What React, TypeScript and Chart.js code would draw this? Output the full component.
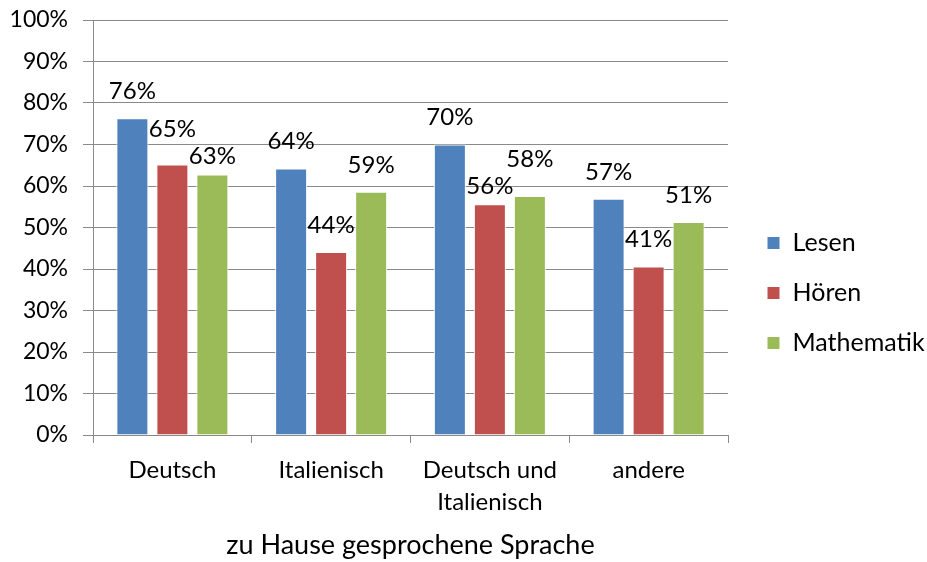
import { useEffect, useRef } from "react";
import { Chart, registerables } from "chart.js";

Chart.register(...registerables);

const categories: (string | string[])[] = ["Deutsch", "Italienisch", ["Deutsch und", "Italienisch"], "andere"];
const lesen = [76.3, 64.2, 70.0, 56.9];
const hoeren = [65.2, 44.1, 55.6, 40.6];
const mathematik = [62.8, 58.6, 57.6, 51.3];
const seriesNames = ["Lesen", "Hören", "Mathematik"];
const axisTitle = "zu Hause gesprochene Sprache";

const FONT = "Lato";
const TXT = "#000000";
const GRID = "#8a8a8a";

const LABEL_GAP = 27;
const LABEL_SEP = 27;

const valueLabels = {
  id: "valueLabels",
  afterDatasetsDraw(chart: any) {
    const ctx = chart.ctx;
    ctx.save();
    ctx.font = `24px ${FONT}`;
    ctx.fillStyle = TXT;
    ctx.textAlign = "center";
    ctx.textBaseline = "middle";
    const n = chart.data.labels.length;
    for (let i = 0; i < n; i++) {
      const items: { text: string; x: number; y: number; w: number }[] = [];
      chart.data.datasets.forEach((ds: any, di: number) => {
        const el = chart.getDatasetMeta(di).data[i];
        const text = `${Math.round(ds.data[i] as number)}%`;
        items.push({ text, x: el.x, y: el.y - LABEL_GAP, w: ctx.measureText(text).width });
      });
      // push apart neighbouring labels that would collide
      for (let k = 0; k < items.length - 1; k++) {
        const a = items[k];
        const b = items[k + 1];
        const overlapX = (a.w + b.w) / 2 > Math.abs(b.x - a.x);
        const dy = Math.abs(b.y - a.y);
        if (overlapX && dy < LABEL_SEP) {
          const push = (LABEL_SEP - dy) / 2;
          if (a.y <= b.y) {
            a.y -= push;
            b.y += push;
          } else {
            a.y += push;
            b.y -= push;
          }
        }
      }
      items.forEach((it) => ctx.fillText(it.text, it.x, it.y));
    }
    ctx.restore();
  },
};

const legendShift = {
  id: "legendShift",
  afterLayout(chart: any) {
    const l = chart.legend;
    if (l) {
      l.left += 14;
      l.right += 14;
      l.top += 2;
      l.bottom += 2;
    }
  },
};

export default function App() {
  const ref = useRef<HTMLCanvasElement>(null);
  useEffect(() => {
    if (!ref.current) return;
    const chart = new Chart(ref.current, {
      type: "bar",
      data: {
        labels: categories as any,
        datasets: [
          { label: seriesNames[0], data: lesen, backgroundColor: "#4F81BD", borderColor: "#ffffff", borderWidth: 1 },
          { label: seriesNames[1], data: hoeren, backgroundColor: "#C0504D", borderColor: "#ffffff", borderWidth: 1 },
          { label: seriesNames[2], data: mathematik, backgroundColor: "#9BBB59", borderColor: "#ffffff", borderWidth: 1 },
        ],
      },
      options: {
        responsive: false,
        animation: false,
        datasets: { bar: { categoryPercentage: 0.756, barPercentage: 0.8 } },
        layout: { padding: { top: 20, left: 0, right: 0, bottom: 0 } },
        plugins: {
          legend: {
            position: "right",
            align: "center",
            labels: {
              font: { family: FONT, size: 25 },
              color: TXT,
              boxWidth: 13,
              boxHeight: 13,
              padding: 25,
            },
          },
          tooltip: { enabled: false },
        },
        scales: {
          x: {
            grid: { display: true, drawOnChartArea: false, drawTicks: true, tickLength: 8, color: GRID, offset: true },
            border: { display: true, color: GRID },
            ticks: { font: { family: FONT, size: 24, lineHeight: 1.33 }, color: TXT, padding: 11, maxRotation: 0 },
            title: { display: true, text: axisTitle, font: { family: FONT, size: 27 }, color: TXT, padding: { top: 0, bottom: 1 } },
            afterFit(scale: any) {
              scale.height = 127;
            },
          },
          y: {
            min: 0,
            max: 100,
            ticks: { stepSize: 10, font: { family: FONT, size: 23 }, color: TXT, padding: 15, callback: (v: any) => `${v}%` },
            grid: { color: GRID, tickLength: 10, drawTicks: true },
            border: { display: true, color: GRID },
            afterFit(scale: any) {
              scale.width = 93;
              scale.paddingTop = 0;
              scale.paddingBottom = 0;
            },
          },
        },
      },
      plugins: [valueLabels, legendShift],
    });
    const lg: any = (chart as any).legend;
    if (lg) {
      const orig = lg.fit;
      lg.fit = function () {
        orig.call(this);
        this.width = 927 - 728;
      };
      chart.update();
    }
    return () => chart.destroy();
  }, []);
  return (
    <div style={{ position: "fixed", left: 0, top: 0, width: 927, height: 562, background: "#fff" }}>
      <canvas ref={ref} width={927} height={562} />
    </div>
  );
}
